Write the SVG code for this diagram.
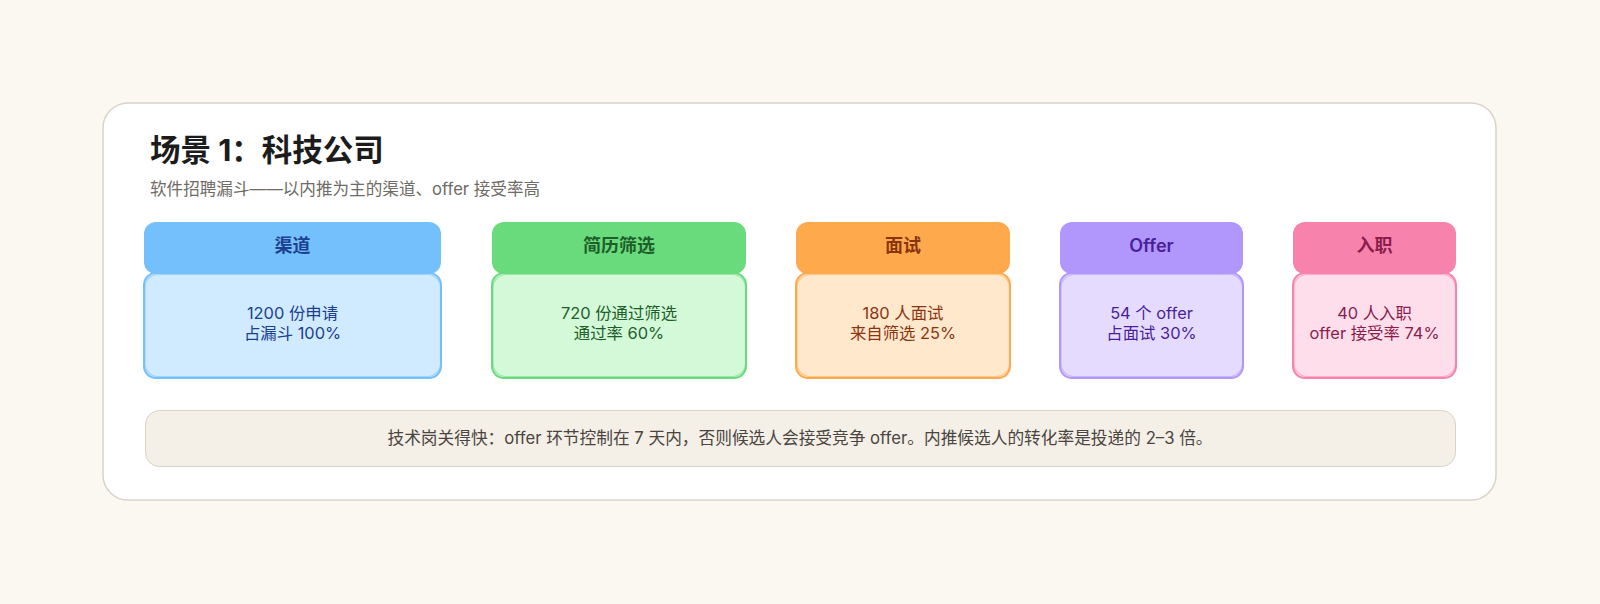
<svg xmlns="http://www.w3.org/2000/svg" width="1600" height="604" viewBox="0 0 1600 604">
<style>
text{font-family:Inter,"Noto Sans CJK SC","Noto Sans",sans-serif;}
.title{font-size:30.5px;font-weight:700;fill:#1c1c1c;}
.sub{font-size:16.6px;fill:#6f6b66;}
.hd{font-size:18px;font-weight:600;text-anchor:middle;}
.bd{font-size:16.4px;text-anchor:middle;}
.sk{fill:none;stroke-width:1.2;opacity:.55;}
.note{font-size:16.7px;fill:#4a4541;text-anchor:middle;}
</style>
<rect x="0" y="0" width="1600" height="604" fill="#fbf8f1"/>
<rect id="card" x="103" y="103" width="1393" height="397" rx="25" fill="#ffffff" stroke="#d9d3c7" stroke-width="1.5"/>
<text class="title" x="150" y="161">场景 1：科技公司</text>
<text class="sub" x="150" y="195">软件招聘漏斗——以内推为主的渠道、offer 接受率高</text>
<g id="connectors"></g>
<g id="n1">
<rect x="144" y="222" width="297" height="52" rx="12" fill="#74c0fc"/>
<rect x="144" y="273" width="297" height="105" rx="12" fill="#d0ebff" stroke="#74c0fc" stroke-width="2"/>
<rect class="sk" x="145" y="274.5" width="295.5" height="102" rx="13" stroke="#74c0fc"/>
<text class="hd" x="292.5" y="252" fill="#1c3f8f">渠道</text>
<text class="bd" x="292.5" y="319" fill="#1c3f8f">1200 份申请</text>
<text class="bd" x="292.5" y="339" fill="#1c3f8f">占漏斗 100%</text>
</g>
<g id="n2">
<rect x="492" y="222" width="254" height="52" rx="12" fill="#69db7c"/>
<rect x="492" y="273" width="254" height="105" rx="12" fill="#d3f9d8" stroke="#69db7c" stroke-width="2"/>
<rect class="sk" x="493" y="274.5" width="252.5" height="102" rx="13" stroke="#69db7c"/>
<text class="hd" x="619" y="252" fill="#1d5e2a">简历筛选</text>
<text class="bd" x="619" y="319" fill="#1d5e2a">720 份通过筛选</text>
<text class="bd" x="619" y="339" fill="#1d5e2a">通过率 60%</text>
</g>
<g id="n3">
<rect x="796" y="222" width="214" height="52" rx="12" fill="#ffa94d"/>
<rect x="796" y="273" width="214" height="105" rx="12" fill="#ffe8cc" stroke="#ffa94d" stroke-width="2"/>
<rect class="sk" x="797" y="274.5" width="212.5" height="102" rx="13" stroke="#ffa94d"/>
<text class="hd" x="903" y="252" fill="#8a3510">面试</text>
<text class="bd" x="903" y="319" fill="#8a3510">180 人面试</text>
<text class="bd" x="903" y="339" fill="#8a3510">来自筛选 25%</text>
</g>
<g id="n4">
<rect x="1060" y="222" width="183" height="52" rx="12" fill="#b197fc"/>
<rect x="1060" y="273" width="183" height="105" rx="12" fill="#e5dbff" stroke="#b197fc" stroke-width="2"/>
<rect class="sk" x="1061" y="274.5" width="181.5" height="102" rx="13" stroke="#b197fc"/>
<text class="hd" x="1151.5" y="252" fill="#4a1f99" font-weight="500">Offer</text>
<text class="bd" x="1151.5" y="319" fill="#4a1f99">54 个 offer</text>
<text class="bd" x="1151.5" y="339" fill="#4a1f99">占面试 30%</text>
</g>
<g id="n5">
<rect x="1293" y="222" width="163" height="52" rx="12" fill="#f783ac"/>
<rect x="1293" y="273" width="163" height="105" rx="12" fill="#ffdeeb" stroke="#f783ac" stroke-width="2"/>
<rect class="sk" x="1294" y="274.5" width="161.5" height="102" rx="13" stroke="#f783ac"/>
<text class="hd" x="1374.5" y="252" fill="#8a1d4c">入职</text>
<text class="bd" x="1374.5" y="319" fill="#8a1d4c">40 人入职</text>
<text class="bd" x="1374.5" y="339" fill="#8a1d4c">offer 接受率 74%</text>
</g>
<g id="note">
<rect x="145.5" y="410.5" width="1310" height="56" rx="14" fill="#f4efe7" stroke="#d9d3c7" stroke-width="1"/>
<text class="note" x="800" y="444">技术岗关得快：offer 环节控制在 7 天内，否则候选人会接受竞争 offer。内推候选人的转化率是投递的 2–3 倍。</text>
</g>
</svg>
